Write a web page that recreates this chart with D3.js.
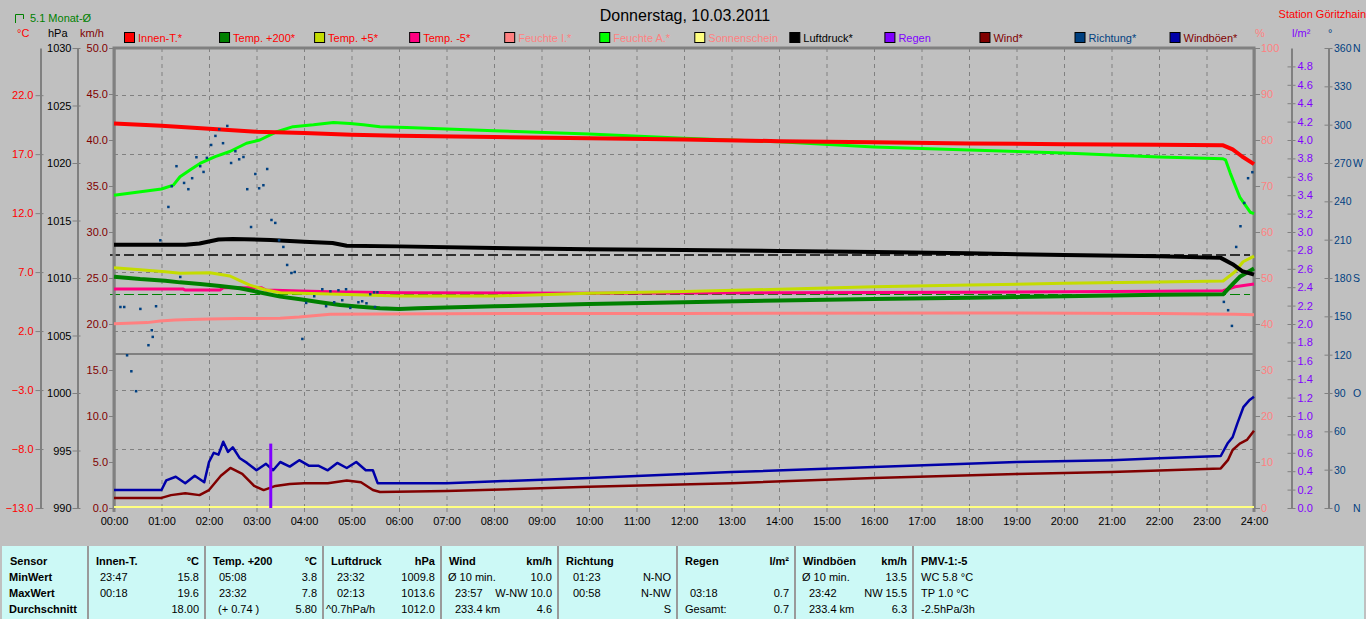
<!DOCTYPE html>
<html><head><meta charset="utf-8">
<script src="https://cdn.jsdelivr.net/npm/d3@7"></script>
<style>
body{margin:0;background:#c0c0c0;overflow:hidden}
svg{display:block;font-family:"Liberation Sans",Arial,sans-serif;font-size:11px}
</style></head><body>
<svg id="c" width="1366" height="619"></svg>
<script>
// ---------------- DATA ----------------
const title = "Donnerstag, 10.03.2011";
const station = "Station Göritzhain";
const monthAvgLabel = "5.1 Monat-Ø";
const monthAvgTemp = 5.1;
const dayAvgPressure = 1012.0;
const hourLabels = d3.range(0, 25).map(h => String(h).padStart(2, "0") + ":00");
const tempTicks = [-13, -8, -3, 2, 7, 12, 17, 22];
const hpaTicks = [990, 995, 1000, 1005, 1010, 1015, 1020, 1025, 1030];
const kmhTicks = [0, 5, 10, 15, 20, 25, 30, 35, 40, 45, 50];
const pctTicks = [0, 10, 20, 30, 40, 50, 60, 70, 80, 90, 100];
const rainTicks = d3.range(0, 25).map(i => i / 5);
const dirTicks = [0, 30, 60, 90, 120, 150, 180, 210, 240, 270, 300, 330, 360];
const dirNames = {0: "N", 90: "O", 180: "S", 270: "W", 360: "N"};

const legendNames = ["Innen-T.*", "Temp. +200*", "Temp. +5*", "Temp. -5*", "Feuchte I.*", "Feuchte A.*",
  "Sonnenschein", "Luftdruck*", "Regen", "Wind*", "Richtung*", "Windböen*"];

// [hour, °C]
const innenT = [[0,19.6],[1,19.4],[2,19.15],[3,18.9],[4,18.8],[5,18.65],[6,18.55],[8,18.45],[10,18.35],[12,18.25],
  [14,18.1],[16,18.0],[18,17.9],[20,17.85],[22,17.8],[23.35,17.75],[23.55,17.4],[23.75,16.8],[24,16.15]];
const temp200 = [[0,6.61],[0.55,6.41],[1.08,6.27],[1.39,6.13],[1.81,5.99],[2.23,5.82],[2.65,5.63],[3.0,5.34],[3.5,4.92],
  [3.92,4.69],[4.34,4.44],[4.76,4.21],[5.18,4.07],[5.6,3.93],[6.0,3.87],[6.4,3.93],[8,4.1],[10,4.3],[12,4.45],[14,4.6],
  [16,4.72],[18,4.83],[20,4.95],[22,5.07],[23.35,5.12],[23.5,5.76],[23.7,6.6],[24,7.3]];
const temp5 = [[0,7.37],[0.55,7.2],[1.08,7.03],[1.39,6.9],[2.02,6.95],[2.44,6.67],[2.65,6.27],[2.86,5.9],[3.18,5.5],[3.5,5.25],
  [3.92,5.2],[4.55,5.14],[6.0,4.97],[8,4.97],[10,5.2],[12,5.35],[14,5.55],[16,5.75],[18,5.9],[20,6.05],[22,6.17],
  [23.35,6.25],[23.6,7.03],[23.77,7.88],[24,8.36]];
const tempM5 = [[0,5.57],[1.45,5.57],[1.5,5.48],[2.23,5.48],[2.3,5.68],[3.1,5.68],[3.2,5.48],[3.92,5.4],[4.55,5.34],
  [6,5.25],[10,5.2],[14,5.25],[18,5.3],[22,5.38],[23.35,5.42],[23.6,5.76],[24,5.99]];
// [hour, %]
const feuchteI = [[0,40.07],[0.7,40.3],[0.97,40.65],[1.28,40.87],[1.6,41.0],[2.0,41.1],[2.65,41.2],[3.5,41.25],
  [3.9,41.5],[4.55,42.1],[5.5,42.2],[8.4,42.3],[12,42.3],[18,42.4],[22,42.3],[23.6,42.1],[24,42.0]];
const feuchteA = [[0,68.0],[1.0,69.35],[1.25,70.2],[1.39,72.0],[1.6,73.5],[1.81,74.9],[2.13,76.4],[2.44,77.5],[2.79,79.3],
  [3.07,80.0],[3.43,81.8],[3.77,82.9],[4.2,83.3],[4.62,83.8],[4.97,83.6],[5.25,83.3],[5.6,82.9],[6.16,82.7],[8,82.0],
  [10,81.3],[12,80.4],[14,79.6],[16,78.5],[18,77.8],[20,77.2],[22,76.3],[23.35,75.9],[23.4,75.7],[23.5,72.8],
  [23.6,70.2],[23.7,67.6],[23.92,64.3],[24,64.0]];
const sonne = [[0,0],[24,0]];
// [hour, hPa]
const luftdruck = [[0,1012.9],[1.5,1012.9],[1.8,1013.0],[2.2,1013.35],[2.5,1013.4],[3.3,1013.3],[4,1013.15],[4.6,1013.05],
  [4.9,1012.8],[6,1012.75],[8,1012.6],[10,1012.5],[12,1012.43],[14,1012.35],[16,1012.26],[18,1012.15],[20,1012.0],
  [22,1011.9],[23.3,1011.75],[23.55,1011.2],[23.75,1010.6],[24,1010.3]];
// [hour, km/h]
const wind = [[0,1.09],[1.0,1.1],[1.2,1.4],[1.5,1.6],[1.8,1.4],[2.0,1.95],[2.25,3.5],[2.45,4.35],[2.7,3.7],[2.95,2.4],
  [3.15,1.95],[3.4,2.4],[3.7,2.6],[4.0,2.7],[4.5,2.7],[4.9,3.0],[5.2,2.8],[5.45,1.95],[5.6,1.74],[7,1.85],[10,2.3],
  [13,2.7],[16,3.26],[19,3.7],[21,3.9],[22,4.08],[23.3,4.3],[23.45,5.2],[23.55,6.3],[23.7,7.0],[23.85,7.4],[24,8.4]];
const windboeen = [[0,1.96],[1.0,1.96],[1.1,3.0],[1.3,3.4],[1.5,2.7],[1.7,3.5],[1.9,2.8],[2.0,5.0],[2.1,6.0],[2.2,5.8],
  [2.3,7.2],[2.4,6.1],[2.5,6.6],[2.65,5.4],[2.8,4.9],[3.0,4.1],[3.2,4.8],[3.35,4.1],[3.5,5.0],[3.7,4.5],[3.9,5.2],
  [4.1,4.6],[4.3,4.6],[4.5,4.1],[4.7,4.9],[4.9,4.35],[5.1,5.0],[5.3,4.1],[5.45,4.1],[5.55,2.7],[7,2.7],[10,3.26],
  [13,3.9],[16,4.46],[19,5.0],[21,5.2],[22,5.4],[23.3,5.65],[23.45,7.07],[23.55,7.7],[23.65,9.2],[23.78,11.0],
  [23.9,11.7],[24,12.1]];
// [hour, l/m²]
const regen = [[3.3, 0.7]];
// [hour, degrees]
const richtung = [[0.13,157.5],[0.21,157.5],[0.27,119.7],[0.36,107.2],[0.46,91.6],[0.55,156],[0.72,127.6],[0.79,139.3],
  [0.81,134.1],[0.88,158.1],[0.97,209.7],[1.14,235.8],[1.21,252],[1.31,267.7],[1.39,181],[1.47,254.6],[1.56,249.7],
  [1.64,258.3],[1.73,274.7],[1.81,267.7],[1.88,263.2],[1.95,274.2],[2.04,284.3],[2.13,291.4],[2.21,296.6],[2.29,285.7],
  [2.38,299.2],[2.46,270.2],[2.55,279.4],[2.63,273.1],[2.72,274.9],[2.8,249.7],[2.88,220.1],[2.97,261.6],[3.05,250.4],
  [3.14,252.8],[3.22,265.5],[3.31,225.6],[3.39,223.3],[3.47,209.7],[3.56,204.5],[3.64,190.4],[3.73,184.1],[3.8,184.9],
  [3.96,132.5],[4.04,160.7],[4.21,165.9],[4.38,171.4],[4.46,158.1],[4.55,169.8],[4.63,161.2],[4.72,170.6],[4.8,162.8],
  [4.88,171.4],[4.97,156.8],[5.14,161.2],[5.22,162],[5.31,160.4],[5.39,167.5],[5.47,169],[5.49,157.5],[5.54,169],
  [23.36,161.5],[23.45,155],[23.53,142.7],[23.62,204.5],[23.71,220.7],[23.79,238.9],[23.87,258.3],[23.96,263]];

// table
const tableHeaders = [["Sensor",""],["Innen-T.","°C"],["Temp. +200","°C"],["Luftdruck","hPa"],["Wind","km/h"],
  ["Richtung",""],["Regen","l/m²"],["Windböen","km/h"],["PMV-1:-5",""]];
const rowNames = ["MinWert","MaxWert","Durchschnitt"];
const tableLeft = [["23:47","15.8"],["00:18","19.6"],["","18.00"]];
const tableTemp = [["05:08","3.8"],["23:32","7.8"],["(+ 0.74 )","5.80"]];
const tablePress = [["23:32","1009.8"],["02:13","1013.6"],["^0.7hPa/h","1012.0"]];
const tableWind = [["Ø 10 min.","10.0"],["23:57","W-NW 10.0"],["233.4 km","4.6"]];
const tableDir = [["01:23","N-NO"],["00:58","N-NW"],["","S"]];
const tableRain = [["",""],["03:18","0.7"],["Gesamt:","0.7"]];
const tableGust = [["Ø 10 min.","13.5"],["23:42","NW 15.5"],["233.4 km","6.3"]];
const tablePMV = [["WC 5.8 °C"],["TP 1.0 °C"],["-2.5hPa/3h"]];

// ---------------- STYLE / LAYOUT ----------------
const C = {red:"#ff0000", green:"#008000", yg:"#c4dc00", pink:"#ff0080", salmon:"#ff8080", lime:"#00ff00",
  sun:"#ffff80", black:"#000000", purple:"#8000ff", dred:"#800000", dblue:"#004080", navy:"#0000a8", grid:"#808080"};
const swatch = [C.red, C.green, C.yg, C.pink, C.salmon, C.lime, C.sun, C.black, C.purple, C.dred, C.dblue, C.navy];
const legTextCol = [C.red, C.red, C.red, C.red, C.salmon, C.salmon, C.salmon, C.black, C.purple, C.dred, C.dblue, C.dred];

const L = 114, R = 1254, T = 48, B = 508;
const svg = d3.select("#c");
const x = d3.scaleLinear([0, 24], [L, R]);
const yT = d3.scaleLinear([-13, 26], [B, T]);
const yP = d3.scaleLinear([990, 1030], [B, T]);
const yK = d3.scaleLinear([0, 50], [B, T]);
const yPct = d3.scaleLinear([0, 100], [B, T]);
const yR = d3.scaleLinear([0, 5], [B, T]);
const yD = d3.scaleLinear([0, 360], [B, T]);

// title & headers
svg.append("text").attr("x", 685).attr("y", 21).attr("text-anchor", "middle").attr("font-size", 16).text(title);
svg.append("text").attr("x", 1366).attr("y", 18).attr("text-anchor", "end").attr("fill", C.red).attr("font-size", 11).text(station);
svg.append("path").attr("d", "M15.5,23V14.5H23.5V19").attr("fill", "none").attr("stroke", C.green);
svg.append("text").attr("x", 30).attr("y", 22).attr("fill", C.green).text(monthAvgLabel);
const unitHdr = [["°C", 17, C.red, "start"], ["hPa", 48, C.black, "start"], ["km/h", 80, C.dred, "start"],
  ["%", 1255, C.salmon, "start"], ["l/m²", 1292, C.purple, "start"], ["°", 1328, C.dblue, "start"]];
unitHdr.forEach(u => svg.append("text").attr("x", u[1]).attr("y", 37).attr("fill", u[2]).text(u[0]));

// legend
const leg = svg.append("g");
legendNames.forEach((n, i) => {
  const lx = 124 + i * 95.05;
  leg.append("rect").attr("x", lx + 0.5).attr("y", 32.5).attr("width", 10).attr("height", 10)
    .attr("fill", swatch[i]).attr("stroke", "#000");
  leg.append("text").attr("x", lx + 14).attr("y", 42).attr("fill", legTextCol[i]).text(n);
});

// grid
const grid = svg.append("g").attr("stroke", C.grid).attr("stroke-dasharray", "4,4");
d3.range(1, 24).forEach(h => grid.append("line").attr("x1", x(h) + 0.5).attr("x2", x(h) + 0.5).attr("y1", T).attr("y2", B));
tempTicks.forEach(t => { if (t > -13) grid.append("line").attr("x1", L).attr("x2", R).attr("y1", Math.round(yT(t)) + 0.5).attr("y2", Math.round(yT(t)) + 0.5); });
// pane divider
svg.append("line").attr("x1", L).attr("x2", R).attr("y1", 354).attr("y2", 354).attr("stroke", C.grid).attr("stroke-width", 2);

// reference dashed lines
svg.append("line").attr("x1", L - 4).attr("x2", R - 4).attr("y1", yP(dayAvgPressure)).attr("y2", yP(dayAvgPressure))
  .attr("stroke", "#000").attr("stroke-width", 1.5).attr("stroke-dasharray", "10,4");
svg.append("line").attr("x1", L - 4).attr("x2", R - 4).attr("y1", yT(monthAvgTemp)).attr("y2", yT(monthAvgTemp))
  .attr("stroke", C.green).attr("stroke-width", 1).attr("stroke-dasharray", "10,4");

// axes
function styleAxis(g, col, x1, x2) {
  g.select(".domain").attr("stroke", C.grid).attr("stroke-width", 2);
  g.selectAll(".tick line").attr("stroke", C.grid).attr("x1", x1).attr("x2", x2);
  g.selectAll(".tick text").attr("fill", col).attr("font-size", 11).attr("font-family", "Liberation Sans, Arial, sans-serif");
}
const f1 = d3.format(".1f");
let g;
g = svg.append("g").attr("transform", "translate(40.5,0)")
  .call(d3.axisLeft(yT).tickValues(tempTicks).tickFormat(f1).tickSize(5).tickPadding(2).tickSizeOuter(0));
styleAxis(g, C.red, -5, 3);
g = svg.append("g").attr("transform", "translate(77.5,0)")
  .call(d3.axisLeft(yP).tickValues(hpaTicks).tickFormat(d3.format("d")).tickSize(5).tickPadding(1).tickSizeOuter(0));
styleAxis(g, C.black, -5, 3);
g = svg.append("g").attr("transform", "translate(114,0)")
  .call(d3.axisLeft(yK).tickValues(kmhTicks).tickFormat(f1).tickSize(5).tickPadding(1).tickSizeOuter(0));
styleAxis(g, C.dred, -5, 0);
g = svg.append("g").attr("transform", "translate(1254,0)")
  .call(d3.axisRight(yPct).tickValues(pctTicks).tickFormat(d3.format("d")).tickSize(6).tickPadding(1).tickSizeOuter(0));
styleAxis(g, C.salmon, 0, 6);
g = svg.append("g").attr("transform", "translate(1291.5,0)")
  .call(d3.axisRight(yR).tickValues(rainTicks.slice(0, 25)).tickFormat(f1).tickSize(4).tickPadding(2).tickSizeOuter(0));
styleAxis(g, C.purple, -4, 4);
g = svg.append("g").attr("transform", "translate(1328.5,0)")
  .call(d3.axisRight(yD).tickValues(dirTicks).tickFormat(d3.format("d")).tickSize(4).tickPadding(1.5).tickSizeOuter(0));
styleAxis(g, C.dblue, -4, 4);
g.selectAll(".tick text").attr("font-size", 10.5);
g.selectAll(".tick").each(function(d) {
  if (dirNames[d]) d3.select(this).append("text").attr("x", 24.5).attr("dy", "0.32em").attr("fill", C.dblue)
    .attr("font-size", 10.5).text(dirNames[d]);
});
// x axis labels
const xa = svg.append("g").attr("transform", `translate(0,${B})`)
  .call(d3.axisBottom(x).tickValues(d3.range(0, 25)).tickFormat(d => hourLabels[d]).tickSize(4).tickPadding(5).tickSizeOuter(0));
xa.select(".domain").remove();
xa.selectAll(".tick line").attr("stroke", C.grid);
xa.selectAll(".tick text").attr("fill", "#000").attr("font-size", 11).attr("font-family", "Liberation Sans, Arial, sans-serif");

// frame
svg.append("path").attr("d", `M${L},${B + 4}V${T}H${R}V${B + 4}`).attr("fill", "none").attr("stroke", C.grid).attr("stroke-width", 3);

// series
const plot = svg.append("g");
function drawLine(data, yS, col, w) {
  plot.append("path").datum(data).attr("fill", "none").attr("stroke", col).attr("stroke-width", w)
    .attr("stroke-linejoin", "round").attr("d", d3.line().x(d => x(d[0])).y(d => yS(d[1])));
}
drawLine(sonne, d => yPct(d) - 1, C.sun, 2);
drawLine(feuchteI, yPct, C.salmon, 3);
drawLine(tempM5, yT, C.pink, 3);
drawLine(temp5, yT, C.yg, 3);
drawLine(temp200, yT, C.green, 4);
drawLine(luftdruck, yP, C.black, 4);
drawLine(feuchteA, yPct, C.lime, 3);
drawLine(innenT, yT, C.red, 4);
drawLine(wind, yK, C.dred, 2.5);
drawLine(windboeen, yK, C.navy, 2.5);
plot.selectAll("rect.rain").data(regen).join("rect").attr("class", "rain")
  .attr("x", d => x(d[0]) - 1.5).attr("width", 3).attr("y", d => yR(d[1])).attr("height", d => B - yR(d[1])).attr("fill", C.purple);
plot.selectAll("rect.dir").data(richtung).join("rect").attr("class", "dir")
  .attr("x", d => x(d[0]) - 1).attr("y", d => yD(d[1]) - 1).attr("width", 2.5).attr("height", 2.5).attr("fill", C.dblue);

// ---------------- TABLE ----------------
const tb = svg.append("g");
tb.append("rect").attr("x", 2).attr("y", 546).attr("width", 1362).attr("height", 73).attr("fill", "#ccf9f6");
const colX = [2, 88, 205, 323, 441, 558, 677, 795, 913, 1364];
colX.slice(1, 9).forEach(cx => tb.append("line").attr("x1", cx).attr("x2", cx).attr("y1", 546).attr("y2", 619).attr("stroke", "#9a9a9a").attr("stroke-width", 2));
const rowY = [565, 581, 597, 613];
function t(xp, yp, s, opt = {}) {
  tb.append("text").attr("x", xp).attr("y", yp).attr("text-anchor", opt.end ? "end" : "start")
    .attr("font-weight", opt.bold ? "bold" : "normal").attr("fill", "#000").text(s);
}
tableHeaders.forEach((h, i) => {
  t(colX[i] + 8, rowY[0], h[0], {bold: true});
  if (h[1]) t(colX[i + 1] - 6, rowY[0], h[1], {bold: true, end: true});
});
rowNames.forEach((r, i) => t(9, rowY[i + 1], r, {bold: true}));
function col(data, ci, indent) {
  data.forEach((r, i) => {
    if (r[0]) t(colX[ci] + indent[i], rowY[i + 1], r[0]);
    if (r[1]) t(colX[ci + 1] - 6, rowY[i + 1], r[1], {end: true});
  });
}
col(tableLeft, 1, [12, 12, 12]);
col(tableTemp, 2, [14, 14, 13]);
col(tablePress, 3, [14, 14, 3]);
col(tableWind, 4, [7, 14, 14]);
col(tableDir, 5, [15, 15, 15]);
col(tableRain, 6, [8, 13, 8]);
col(tableGust, 7, [7, 14, 14]);
tablePMV.forEach((r, i) => t(colX[8] + 8, rowY[i + 1], r[0]));
</script>
</body></html>
